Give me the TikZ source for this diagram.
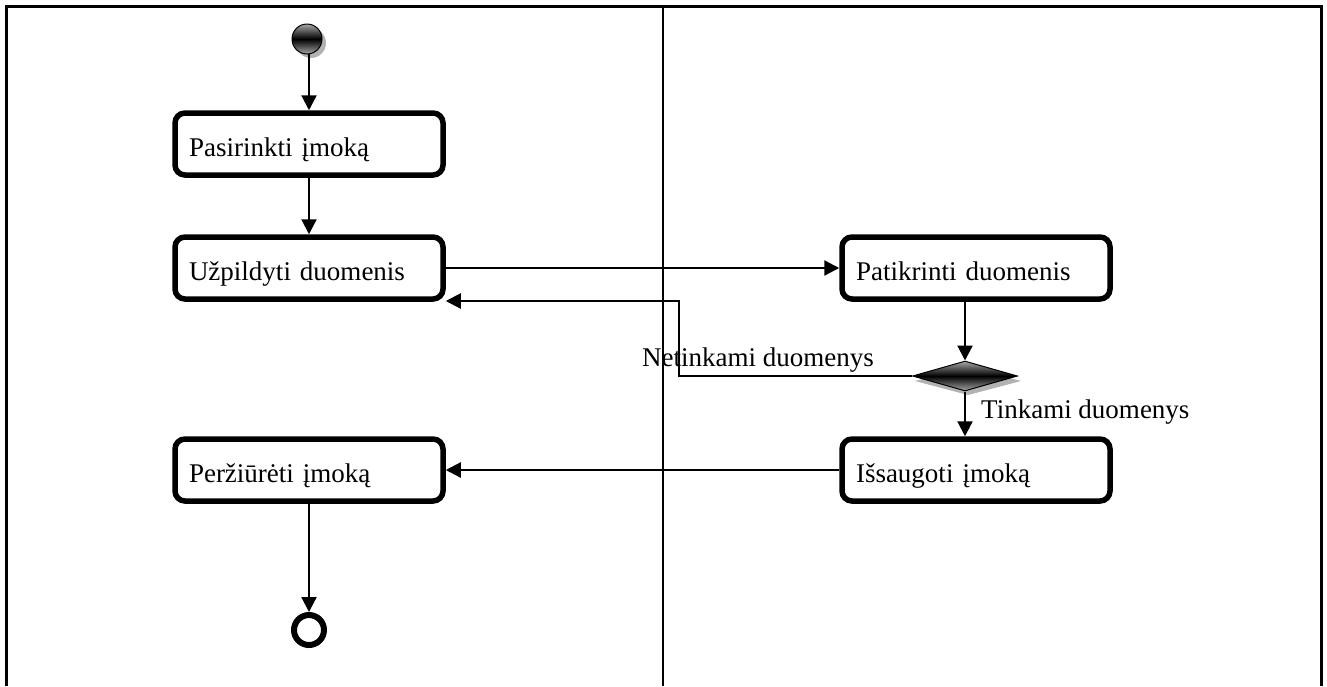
\documentclass[tikz,border=0pt]{standalone}
\usepackage{fontspec}
\setmainfont{Liberation Serif}
\usetikzlibrary{arrows.meta,calc,shapes.geometric}
\begin{document}
\begin{tikzpicture}[x=1pt,y=-1pt,
  font=\fontsize{27}{30}\selectfont,
  activity/.style={draw,line width=5.5pt,rounded corners=10pt,fill=white,
    minimum width=268pt,minimum height=62pt,text width=240pt,align=left,
    text height=25pt,text depth=0pt,inner sep=0pt},
  flow/.style={line width=2.2pt,-{Triangle[length=15pt,width=15pt]}},
  lbl/.style={inner sep=0pt,anchor=base west},
  darkshade/.style={top color=gray!70,bottom color=gray!70,middle color=black}]
\useasboundingbox (0,0) rectangle (1327,686);
% frame and swimlane divider
\draw[line width=3pt] (6,686) -- (6,6) -- (1321,6) -- (1321,686);
\draw[line width=2pt] (663,6) -- (663,686);
% initial node
\fill[gray!60] (311,43) circle (15);
\shade[darkshade,draw=black,line width=1pt] (307,39) circle (15);
\coordinate (start) at (309,54);
% activities
\node[activity] (pas) at (309,144) {Pasirinkti įmoką};
\node[activity] (uzp) at (309,268) {Užpildyti duomenis};
\node[activity] (pat) at (976,268) {Patikrinti duomenis};
\node[activity] (iss) at (976,470) {Išsaugoti įmoką};
\node[activity] (per) at (309,470) {Peržiūrėti įmoką};
% decision
\fill[gray!60] (968,367) -- (1021,381) -- (968,395) -- (915,381) -- cycle;
\node[diamond,draw=black,line width=1pt,darkshade,minimum width=105pt,minimum height=30pt,
  inner sep=0pt,aspect=3.5] (dec) at (965,376) {};
% final node
\node[circle,draw,line width=6pt,minimum size=30pt,inner sep=0pt] (fin) at (309,630) {};
% flows
\draw[flow] (start) -- (pas);
\draw[flow] (pas) -- (uzp);
\draw[flow] (uzp) -- (pat);
\draw[flow] (dec |- pat.south) -- (dec.north);
\draw[flow] (dec.west) -- (679,376) -- (679,301) -- (uzp.east |- 0,301);
\draw[flow] (dec.south) -- (dec |- iss.north);
\draw[flow] (iss) -- (per);
\draw[flow] (per) -- (fin);
% guards
\node[lbl] (bad) at (642,366) {Netinkami duomenys};
\node[lbl] (ok) at (981,418) {Tinkami duomenys};
\end{tikzpicture}
\end{document}
